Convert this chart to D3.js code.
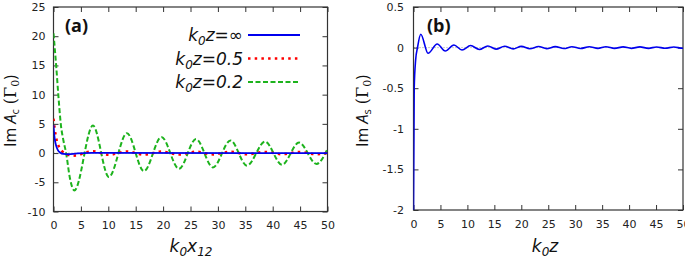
<!DOCTYPE html>
<html>
<head>
<meta charset="utf-8" />
<script src="https://d3js.org/d3.v7.min.js"></script>
<style>
  body { margin: 0; background: #fff; }
  svg { display: block; font-family: "Open Sans", sans-serif; }
  .tick text { font-size: 11px; fill: #222; font-family: "DejaVu Sans", sans-serif; }
  .tick line { stroke: #333; }
  .ital { font-family: "DejaVu Sans", sans-serif; font-style: italic; }
</style>
</head>
<body>
<svg width="685" height="258"></svg>
<script>
// ---- data ----
const xTicks = [0, 5, 10, 15, 20, 25, 30, 35, 40, 45, 50];
const yTicksA = [-10, -5, 0, 5, 10, 15, 20, 25];
const yTicksB = [-2, -1.5, -1, -0.5, 0, 0.5];

// panel (a): k0z = 0.2 (green dashed)
const greenX = [0, 0.5, 0.9, 1.35, 1.8, 2.3, 3.0, 3.8, 7.2, 10.1, 13.4, 16.5, 19.7, 22.9, 26.0, 29.1, 32.3, 35.3, 38.6, 41.7, 44.8, 48.0, 50];
const greenY = [20.5, 14.8, 9.7, 4.8, 2.2, 0, -4.3, -6.4, 4.7, -4.1, 3.4, -3.1, 2.75, -2.7, 2.4, -2.45, 2.15, -2.15, 1.95, -2.0, 1.8, -1.85, 0.7];
// panel (a): k0z = 0.5 (red dotted)
const redX = [0, 0.2, 0.4, 0.7, 1.1, 1.6, 2.2, 3.3, 4.4, 5.5, 7.2, 10.1, 13.4, 16.5, 19.7, 22.9, 26.0, 29.1, 32.3, 35.3, 38.6, 41.7, 44.8, 48.0, 50];
const redY = [5.9, 4.3, 3.0, 1.8, 0.9, 0.3, -0.1, -0.45, -0.4, 0, 0.3, -0.3, 0.28, -0.27, 0.25, -0.25, 0.23, -0.23, 0.22, -0.22, 0.2, -0.2, 0.2, -0.2, 0.05];
// panel (a): k0z = inf (blue solid)
const blueX = [0, 0.15, 0.3, 0.5, 0.8, 1.2, 1.8, 2.8, 4.0, 5.5, 8, 50];
const blueY = [4.8, 3.0, 2.0, 1.2, 0.5, 0.1, -0.15, -0.2, -0.1, 0, 0.02, 0];

// panel (b): Im A_s
const asX = [0, 0.13, 0.4, 0.74, 1.35, 2.7, 4.4, 5.9, 7.5, 9.0, 10.6, 12.2, 13.8, 15.3, 16.9, 18.5, 20.0, 21.6, 23.2, 24.7,
             26.3, 27.9, 29.4, 31.0, 32.6, 34.2, 35.7, 37.3, 38.9, 40.4, 42.0, 43.6, 45.1, 46.7, 48.3, 49.9, 50];
const asY = [-2.0, -0.5, -0.15, 0, 0.165, -0.07, 0.045, -0.042, 0.032, -0.03, 0.025, -0.023, 0.02, -0.019, 0.017, -0.016, 0.015, -0.014, 0.013, -0.013,
             0.012, -0.012, 0.011, -0.011, 0.01, -0.01, 0.01, -0.01, 0.009, -0.009, 0.009, -0.009, 0.008, -0.008, 0.008, -0.008, -0.008];

const GREEN = "#1db31d", RED = "#ff0000", BLUE = "#0000ee";

const svg = d3.select("svg");
const zip = (xs, ys) => xs.map((x, i) => [x, ys[i]]);

function panel(id, box, yDomain, yTicks, padY) {
  const x = d3.scaleLinear().domain([0, 50]).range([box.x0, box.x1]);
  const y = d3.scaleLinear().domain(yDomain).range([box.y1, box.y0]);
  const fmt = d => String(d);

  svg.append("clipPath").attr("id", "clip" + id)
    .append("rect")
    .attr("x", box.x0).attr("y", box.y0)
    .attr("width", box.x1 - box.x0).attr("height", box.y1 - box.y0);

  // zero axis
  svg.append("line")
    .attr("x1", box.x0).attr("x2", box.x1)
    .attr("y1", y(0)).attr("y2", y(0))
    .attr("stroke", "#999").attr("stroke-dasharray", "1,2");

  const bottom = svg.append("g").attr("transform", `translate(0,${box.y1})`)
    .call(d3.axisBottom(x).tickValues(xTicks).tickFormat(fmt).tickSize(-5).tickSizeOuter(0).tickPadding(10));
  const top = svg.append("g").attr("transform", `translate(0,${box.y0})`)
    .call(d3.axisTop(x).tickValues(xTicks).tickFormat("").tickSize(-5).tickSizeOuter(0));
  const left = svg.append("g").attr("transform", `translate(${box.x0},0)`)
    .call(d3.axisLeft(y).tickValues(yTicks).tickFormat(fmt).tickSize(-5).tickSizeOuter(0).tickPadding(padY));
  const right = svg.append("g").attr("transform", `translate(${box.x1},0)`)
    .call(d3.axisRight(y).tickValues(yTicks).tickFormat("").tickSize(-5).tickSizeOuter(0));
  [bottom, top, left, right].forEach(a => a.select(".domain").remove());

  svg.append("rect")
    .attr("x", box.x0).attr("y", box.y0)
    .attr("width", box.x1 - box.x0).attr("height", box.y1 - box.y0)
    .attr("fill", "none").attr("stroke", "#333").attr("stroke-width", 1.2);

  const line = d3.line().x(d => x(d[0])).y(d => y(d[1])).curve(d3.curveMonotoneX);
  const plot = svg.append("g").attr("clip-path", `url(#clip${id})`);
  return { x, y, line, plot };
}

// ---- panel (a) ----
const A = panel("a", { x0: 53.5, x1: 327.5, y0: 7, y1: 211.5 }, [-10, 25], yTicksA, 8);
A.plot.append("path").datum(zip(greenX, greenY)).attr("d", A.line)
  .attr("fill", "none").attr("stroke", GREEN).attr("stroke-width", 2).attr("stroke-dasharray", "5,2.5");
A.plot.append("path").datum(zip(redX, redY)).attr("d", A.line)
  .attr("fill", "none").attr("stroke", RED).attr("stroke-width", 2.5).attr("stroke-dasharray", "2.5,4.2");
A.plot.append("path").datum(zip(blueX, blueY)).attr("d", A.line)
  .attr("fill", "none").attr("stroke", BLUE).attr("stroke-width", 1.8);

// legend
const legend = [
  { label: "=∞", color: BLUE, dash: null, w: 1.8 },
  { label: "=0.5", color: RED, dash: "2.5,4.2", w: 2.5 },
  { label: "=0.2", color: GREEN, dash: "5,2.5", w: 2 }
];
legend.forEach((d, i) => {
  const ly = 35 + i * 23.5;
  const t = svg.append("text").attr("class", "ital").attr("x", 243).attr("y", ly + 6)
    .attr("text-anchor", "end").attr("font-size", 17).attr("fill", "#111");
  t.append("tspan").text("k");
  t.append("tspan").attr("font-size", 12).attr("dy", 4).text("0");
  t.append("tspan").attr("dy", -4).text("z" + d.label);
  svg.append("line").attr("x1", 248).attr("x2", 300).attr("y1", ly).attr("y2", ly)
    .attr("stroke", d.color).attr("stroke-width", d.w).attr("stroke-dasharray", d.dash);
});

svg.append("text").attr("x", 65).attr("y", 32).attr("font-size", 18).attr("font-weight", "bold")
  .attr("fill", "#111").text("(a)");

// ---- panel (b) ----
const B = panel("b", { x0: 413.5, x1: 683, y0: 7, y1: 210 }, [-2, 0.5], yTicksB, 9.5);
B.plot.append("path").datum(zip(asX, asY)).attr("d", B.line)
  .attr("fill", "none").attr("stroke", BLUE).attr("stroke-width", 1.6);

svg.append("text").attr("x", 427).attr("y", 32).attr("font-size", 18).attr("font-weight", "bold")
  .attr("fill", "#111").text("(b)");

// ---- axis titles ----
function yTitle(xb, sub) {
  const t = svg.append("text")
    .attr("transform", `translate(${xb},111) rotate(-90)`)
    .attr("text-anchor", "middle").attr("font-size", 16).attr("fill", "#111");
  t.append("tspan").text("Im ");
  t.append("tspan").attr("font-style", "italic").text("A");
  t.append("tspan").attr("font-size", 11).attr("dy", 3).text(sub);
  t.append("tspan").attr("dy", -3).attr("font-family", "'DejaVu Serif', serif").text(" (Γ");
  t.append("tspan").attr("font-family", "'DejaVu Serif', serif").attr("font-size", 11).attr("dy", 3).text("0");
  t.append("tspan").attr("dy", -3).text(")");
}
yTitle(16, "c");
yTitle(368, "s");

function xTitle(xc, parts) {
  const t = svg.append("text").attr("class", "ital").attr("x", xc).attr("y", 252)
    .attr("text-anchor", "middle").attr("font-size", 17).attr("fill", "#111");
  parts.forEach(p => {
    t.append("tspan").attr("font-size", p.sub ? 12 : 17).attr("dy", p.dy).text(p.s);
  });
}
xTitle(191, [{ s: "k", dy: 0 }, { s: "0", sub: true, dy: 4 }, { s: "x", dy: -4 }, { s: "12", sub: true, dy: 4 }]);
xTitle(545, [{ s: "k", dy: 0 }, { s: "0", sub: true, dy: 4 }, { s: "z", dy: -4 }]);
</script>
</body>
</html>
